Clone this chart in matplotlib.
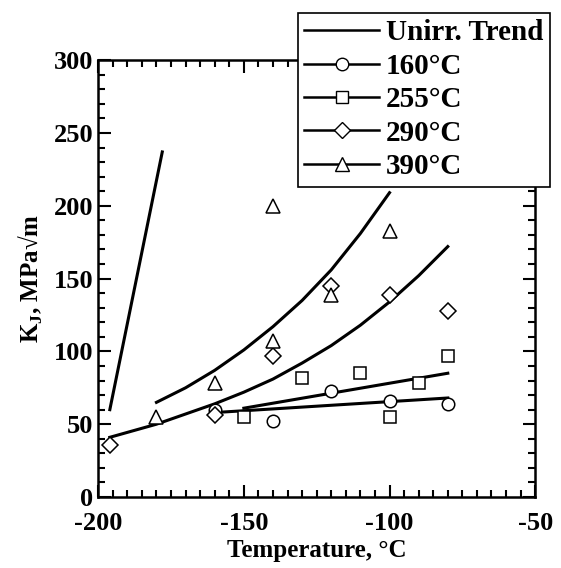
import numpy as np
import matplotlib
matplotlib.use('Agg')
import matplotlib.pyplot as plt
from matplotlib.lines import Line2D
from matplotlib.ticker import MultipleLocator

plt.rcParams['font.family'] = ['Liberation Serif', 'DejaVu Serif']
plt.rcParams['font.weight'] = 'bold'
plt.rcParams['axes.unicode_minus'] = False
plt.rcParams['mathtext.fontset'] = 'custom'
plt.rcParams['mathtext.rm'] = 'Liberation Serif:bold'
plt.rcParams['mathtext.bf'] = 'Liberation Serif:bold'

# data points
t160 = [-160, -140, -120, -100, -80]
k160 = [60, 52, 73, 66, 64]
t255 = [-150, -130, -110, -100, -90, -80]
k255 = [55, 82, 85.5, 55, 78, 96.5]
t290 = [-196, -160, -140, -120, -100, -80]
k290 = [36, 56.5, 96.5, 145, 138.5, 128]
t390 = [-180, -160, -140, -140, -120, -100]
k390 = [55, 78.5, 107, 200, 139, 183]

# trend lines
unirr_t = [-196, -178]
unirr_k = [60, 237]
fit390_t = [-180, -170, -160, -150, -140, -130, -120, -110, -100]
fit390_k = [65, 75, 87, 101, 117, 135, 156, 181, 209]
fit290_t = [-196, -180, -170, -160, -150, -140, -130, -120, -110, -100, -90, -80]
fit290_k = [41, 50, 57, 64, 72, 81, 92, 104, 118, 134, 152, 172]
fit255_t = [-150, -80]
fit255_k = [61, 85]
fit160_t = [-160, -80]
fit160_k = [58, 68]

fig = plt.figure(figsize=(5.61, 5.68), dpi=100)
ax = fig.add_axes([0.175, 0.125, 0.779, 0.769])

lw = 2.2
for tt, kk in [(unirr_t, unirr_k), (fit390_t, fit390_k), (fit290_t, fit290_k),
               (fit255_t, fit255_k), (fit160_t, fit160_k)]:
    ax.plot(tt, kk, color='k', lw=lw)

mk = dict(ls='none', mfc='white', mec='k', mew=1.1)
ax.plot(t160, k160, marker='o', ms=9, **mk)
ax.plot(t255, k255, marker='s', ms=9, **mk)
ax.plot(t290, k290, marker='D', ms=8.5, **mk)
ax.plot(t390, k390, marker='^', ms=10, **mk)

ax.set_xlim(-200, -50)
ax.set_ylim(0, 300)
ax.xaxis.set_major_locator(MultipleLocator(50))
ax.xaxis.set_minor_locator(MultipleLocator(5))
ax.yaxis.set_major_locator(MultipleLocator(50))
ax.yaxis.set_minor_locator(MultipleLocator(10))
ax.tick_params(which='both', direction='in', top=True, right=True, width=1.5,
               labelsize=19)
ax.tick_params(which='major', length=9)
ax.tick_params(which='minor', length=5)
ax.tick_params(axis='x', pad=11)
for s in ax.spines.values():
    s.set_linewidth(1.8)

ax.set_xlabel('Temperature, °C', fontsize=18, fontweight='bold', labelpad=3)
ax.set_ylabel(r'K$_\mathbf{J}$, MPa√m', fontsize=18, fontweight='bold', labelpad=6)

handles = [
    Line2D([], [], color='k', lw=1.8),
    Line2D([], [], color='k', lw=1.8, marker='o', ms=9, mfc='white', mec='k'),
    Line2D([], [], color='k', lw=1.8, marker='s', ms=9, mfc='white', mec='k'),
    Line2D([], [], color='k', lw=1.8, marker='D', ms=8.5, mfc='white', mec='k'),
    Line2D([], [], color='k', lw=1.8, marker='^', ms=10, mfc='white', mec='k'),
]
labels = ['Unirr. Trend', '160°C', '255°C', '290°C', '390°C']
leg = fig.legend(handles, labels, loc='upper left',
                 bbox_to_anchor=(298 / 561, 1 - 13 / 568),
                 prop={'size': 21, 'weight': 'bold'}, frameon=True,
                 fancybox=False, edgecolor='k', framealpha=1,
                 handlelength=2.55, handletextpad=0.25, labelspacing=0.22,
                 borderpad=0.22, borderaxespad=0)
leg.get_frame().set_linewidth(1.2)

fig.savefig('out.png', dpi=100)
